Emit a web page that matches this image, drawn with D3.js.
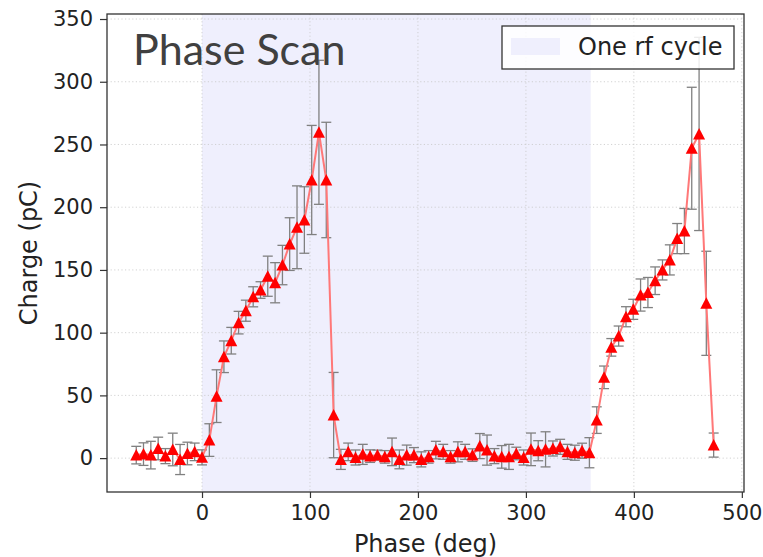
<!DOCTYPE html>
<html>
<head>
<meta charset="utf-8">
<script src="https://cdn.jsdelivr.net/npm/d3@7"></script>
<style>
  body { margin: 0; background: #fff; }
  text { font-family: "DejaVu Sans", sans-serif; }
</style>
</head>
<body>
<script>
// phase (deg), measured charge (pC) and its error bar
const phase = [-60.9, -54.2, -47.4, -40.6, -33.9, -27.1, -20.3, -13.5, -6.8, 0,
  6.8, 13.5, 20.3, 27.1, 33.9, 40.6, 47.4, 54.2, 60.9, 67.7,
  74.5, 81.2, 88.0, 94.8, 101.6, 108.3, 115.1, 121.9, 128.6, 135.4,
  142.2, 148.9, 155.7, 162.5, 169.3, 176.0, 182.8, 189.6, 196.3, 203.1,
  209.9, 216.6, 223.4, 230.2, 237.0, 243.7, 250.5, 257.3, 264.0, 270.8,
  277.6, 284.3, 291.1, 297.9, 304.7, 311.4, 318.2, 325.0, 331.7, 338.5,
  345.3, 352.0, 358.8, 365.6, 372.4, 379.1, 385.9, 392.7, 399.4, 406.2,
  413.0, 419.7, 426.5, 433.3, 440.1, 446.8, 453.6, 460.4, 467.1, 473.9]
const charge = [2.4, 3.2, 2.4, 7.7, 1.6, 6.9, -1.1, 3.7, 5, 0.6,
  14.4, 49.4, 80.8, 93.6, 108, 117.5, 128.6, 134, 145, 139.8,
  153.9, 170.6, 184, 189.8, 221.7, 259.7, 221.7, 34.3, -1, 5,
  0.5, 3, 1.6, 2.4, 1, 5, -1, 2.4, 2.4, -1,
  1, 6.4, 5, 1, 5, 5, 2.4, 9.6, 6.4, 1.6,
  1, 1, 3.7, 0.5, 7, 5.9, 7, 7.7, 9, 5,
  4.3, 5.9, 4.3, 30.3, 64.4, 88.3, 97.3, 112.7, 118.6, 130,
  132, 141.4, 150, 158, 175, 181, 247, 258.4, 123.4, 10.4]
const chargeErr = [7, 9, 11, 9, 6, 13, 12, 9, 7, 6,
  13, 21, 12.6, 10.6, 9, 8.4, 8, 6.6, 16, 16,
  15.7, 21, 33, 26.5, 43.5, 57.4, 46, 34, 8, 7,
  6, 8, 5, 4, 5, 11, 7.5, 8, 6, 6,
  5, 7, 6, 5, 8, 6, 5, 10, 12, 6,
  9, 10, 5, 6, 13, 8, 14, 6, 6, 6,
  6, 6, 12, 10.6, 9, 7, 8, 8, 8, 12.8,
  12, 11, 8, 12, 12, 18, 48.6, 77, 41.5, 9.6]

const rfCycle = [0, 360]
const xTicks = [0, 100, 200, 300, 400, 500]
const yTicks = [0, 50, 100, 150, 200, 250, 300, 350]

const data = phase.map((p, i) => ({ p, q: charge[i], e: chargeErr[i] }))

const width = 763
const height = 557
const margin = { top: 14, right: 19, bottom: 65, left: 107 }

const svg = d3.select("body")
    .append("svg")
    .attr("width", width)
    .attr("height", height)

const x = d3.scaleLinear()
    .domain([-88, 502])
    .range([margin.left, width - margin.right])

const y = d3.scaleLinear()
    .domain([-27, 354])
    .range([height - margin.bottom, margin.top])

// shaded rf cycle
svg.append("rect")
    .attr("x", x(rfCycle[0]))
    .attr("y", margin.top)
    .attr("width", x(rfCycle[1]) - x(rfCycle[0]))
    .attr("height", y.range()[0] - margin.top)
    .attr("fill", "#efeffd")

// grid
svg.append("g")
    .selectAll("line")
    .data(xTicks)
    .join("line")
    .attr("x1", (d) => x(d))
    .attr("x2", (d) => x(d))
    .attr("y1", margin.top)
    .attr("y2", height - margin.bottom)
    .attr("stroke", "#c8c8c8")
    .attr("stroke-width", 0.8)
    .attr("stroke-dasharray", "1.2,2.4")

svg.append("g")
    .selectAll("line")
    .data(yTicks)
    .join("line")
    .attr("x1", margin.left)
    .attr("x2", width - margin.right)
    .attr("y1", (d) => y(d))
    .attr("y2", (d) => y(d))
    .attr("stroke", "#c8c8c8")
    .attr("stroke-width", 0.8)
    .attr("stroke-dasharray", "1.2,2.4")

// error bars
const errG = svg.append("g")
    .attr("stroke", "#808080")
    .attr("stroke-width", 1.3)
const capW = 5
errG.selectAll(".stem")
    .data(data)
    .join("line")
    .attr("x1", (d) => x(d.p))
    .attr("x2", (d) => x(d.p))
    .attr("y1", (d) => y(d.q - d.e))
    .attr("y2", (d) => y(d.q + d.e))
errG.selectAll(".capTop")
    .data(data)
    .join("line")
    .attr("class", "capTop")
    .attr("x1", (d) => x(d.p) - capW)
    .attr("x2", (d) => x(d.p) + capW)
    .attr("y1", (d) => y(d.q + d.e))
    .attr("y2", (d) => y(d.q + d.e))
errG.selectAll(".capBot")
    .data(data)
    .join("line")
    .attr("class", "capBot")
    .attr("x1", (d) => x(d.p) - capW)
    .attr("x2", (d) => x(d.p) + capW)
    .attr("y1", (d) => y(d.q - d.e))
    .attr("y2", (d) => y(d.q - d.e))

// data line
svg.append("path")
    .datum(data)
    .attr("fill", "none")
    .attr("stroke", "#ff7878")
    .attr("stroke-width", 2)
    .attr("d", d3.line().x((d) => x(d.p)).y((d) => y(d.q)))

// markers (triangles)
svg.append("g")
    .selectAll("path")
    .data(data)
    .join("path")
    .attr("transform", (d) => `translate(${x(d.p)},${y(d.q)})`)
    .attr("d", "M0,-6L6,5.5L-6,5.5Z")
    .attr("fill", "red")

// axes
const xAxis = svg.append("g")
    .attr("transform", `translate(0,${height - margin.bottom})`)
    .call(d3.axisBottom(x).tickValues(xTicks).tickSize(6).tickPadding(7))
const yAxis = svg.append("g")
    .attr("transform", `translate(${margin.left},0)`)
    .call(d3.axisLeft(y).tickValues(yTicks).tickSize(7).tickPadding(7))

for (const ax of [xAxis, yAxis]) {
    ax.select(".domain").remove()
    ax.selectAll("line").attr("stroke", "#333").attr("stroke-width", 1.2)
    ax.selectAll("text")
        .attr("font-size", "21px")
        .attr("fill", "#222")
        .style("font-family", "DejaVu Sans")
}

// frame
svg.append("rect")
    .attr("x", margin.left)
    .attr("y", margin.top)
    .attr("width", width - margin.left - margin.right)
    .attr("height", height - margin.top - margin.bottom)
    .attr("fill", "none")
    .attr("stroke", "#333")
    .attr("stroke-width", 1.3)

// axis labels
svg.append("text")
    .attr("x", (margin.left + width - margin.right) / 2)
    .attr("y", 552)
    .attr("text-anchor", "middle")
    .attr("font-size", "24px")
    .attr("fill", "#222")
    .text("Phase (deg)")

svg.append("text")
    .attr("transform", `translate(37,${(margin.top + height - margin.bottom) / 2}) rotate(-90)`)
    .attr("text-anchor", "middle")
    .attr("font-size", "24px")
    .attr("fill", "#222")
    .text("Charge (pC)")

// title inside the plot
svg.append("text")
    .attr("x", 133)
    .attr("y", 65)
    .attr("font-size", "43px")
    .attr("fill", "#404040")
    .style("font-family", "Lato, 'Open Sans', sans-serif")
    .text("Phase Scan")

// legend
const legend = svg.append("g").attr("id", "legend")
legend.append("rect")
    .attr("x", 502)
    .attr("y", 26)
    .attr("width", 232)
    .attr("height", 43)
    .attr("fill", "white")
    .attr("fill-opacity", 0.85)
    .attr("stroke", "#333")
    .attr("stroke-width", 1.3)
legend.append("rect")
    .attr("x", 511)
    .attr("y", 38)
    .attr("width", 49)
    .attr("height", 17)
    .attr("fill", "#efeffd")
legend.append("text")
    .attr("x", 578)
    .attr("y", 55)
    .attr("font-size", "24px")
    .attr("fill", "#222")
    .text("One rf cycle")
</script>
</body>
</html>
